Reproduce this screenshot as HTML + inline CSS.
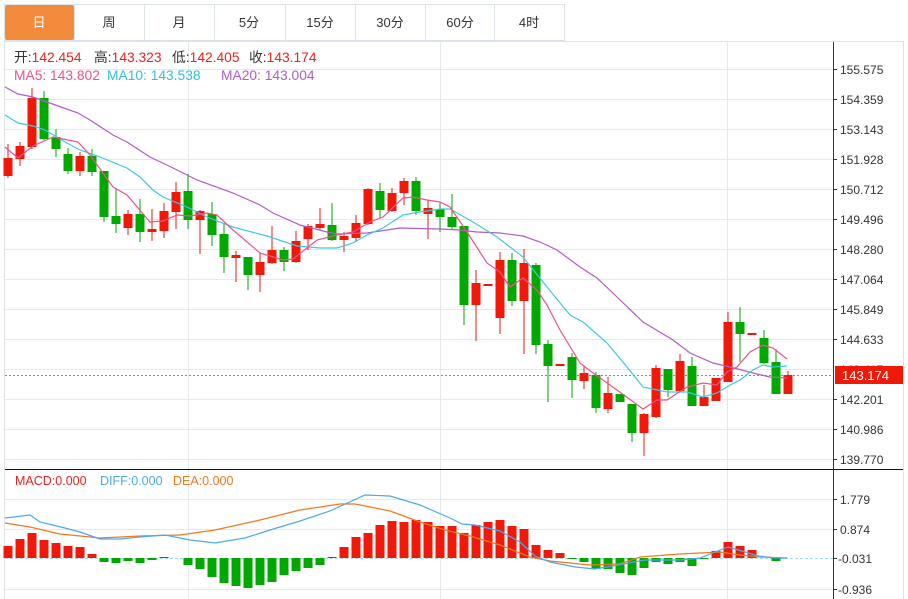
<!DOCTYPE html>
<html><head><meta charset="utf-8"><style>
body{margin:0;background:#fff;width:908px;height:599px;overflow:hidden;font-family:"Liberation Sans","Noto Sans CJK SC",sans-serif;}
svg{position:absolute;left:0;top:0}
</style></head><body>
<svg width="908" height="599" viewBox="0 0 908 599" xmlns="http://www.w3.org/2000/svg" font-family="Liberation Sans, Noto Sans CJK SC, sans-serif">
<rect width="908" height="599" fill="#fff"/>
<rect x="4.5" y="4.5" width="560" height="36" fill="#fff" stroke="#dde3ea"/>
<rect x="5" y="5" width="69" height="35" fill="#f28c3c" rx="2"/>
<g stroke="#dde3ea"><line x1="144.5" y1="5" x2="144.5" y2="40"/><line x1="214.5" y1="5" x2="214.5" y2="40"/><line x1="285.5" y1="5" x2="285.5" y2="40"/><line x1="355.5" y1="5" x2="355.5" y2="40"/><line x1="425.5" y1="5" x2="425.5" y2="40"/><line x1="494.5" y1="5" x2="494.5" y2="40"/><line x1="74.5" y1="5" x2="74.5" y2="40"/></g>
<g font-size="13" text-anchor="middle" fill="#333"><text x="39" y="27" fill="#fff">日</text><text x="109" y="27">周</text><text x="179" y="27">月</text><text x="249" y="27">5分</text><text x="320" y="27">15分</text><text x="390" y="27">30分</text><text x="460" y="27">60分</text><text x="529" y="27">4时</text></g>
<line x1="4.5" y1="41.5" x2="903" y2="41.5" stroke="#dde3ea"/>
<line x1="4.5" y1="41" x2="4.5" y2="599" stroke="#dde3ea"/>
<line x1="903.5" y1="41" x2="903.5" y2="599" stroke="#dde3ea"/>
<g stroke="#e4e9ef">
<line x1="5" y1="69.5" x2="833" y2="69.5"/><line x1="5" y1="99.5" x2="833" y2="99.5"/><line x1="5" y1="129.5" x2="833" y2="129.5"/><line x1="5" y1="159.5" x2="833" y2="159.5"/><line x1="5" y1="189.5" x2="833" y2="189.5"/><line x1="5" y1="219.5" x2="833" y2="219.5"/><line x1="5" y1="249.5" x2="833" y2="249.5"/><line x1="5" y1="279.5" x2="833" y2="279.5"/><line x1="5" y1="309.5" x2="833" y2="309.5"/><line x1="5" y1="339.5" x2="833" y2="339.5"/><line x1="5" y1="369.5" x2="833" y2="369.5"/><line x1="5" y1="399.5" x2="833" y2="399.5"/><line x1="5" y1="429.5" x2="833" y2="429.5"/><line x1="5" y1="459.5" x2="833" y2="459.5"/>
<line x1="5" y1="499.5" x2="833" y2="499.5"/><line x1="5" y1="529.5" x2="833" y2="529.5"/><line x1="5" y1="589.5" x2="833" y2="589.5"/>
<line x1="188.5" y1="42" x2="188.5" y2="599"/><line x1="440.5" y1="42" x2="440.5" y2="599"/><line x1="727.5" y1="42" x2="727.5" y2="599"/>
</g>
<line x1="5" y1="469.5" x2="903" y2="469.5" stroke="#111"/>
<line x1="833.5" y1="42" x2="833.5" y2="599" stroke="#333"/>
<g font-size="12" fill="#333">
<g stroke="#333"><line x1="833" y1="69.5" x2="837" y2="69.5"/><line x1="833" y1="99.5" x2="837" y2="99.5"/><line x1="833" y1="129.5" x2="837" y2="129.5"/><line x1="833" y1="159.5" x2="837" y2="159.5"/><line x1="833" y1="189.5" x2="837" y2="189.5"/><line x1="833" y1="219.5" x2="837" y2="219.5"/><line x1="833" y1="249.5" x2="837" y2="249.5"/><line x1="833" y1="279.5" x2="837" y2="279.5"/><line x1="833" y1="309.5" x2="837" y2="309.5"/><line x1="833" y1="339.5" x2="837" y2="339.5"/><line x1="833" y1="399.5" x2="837" y2="399.5"/><line x1="833" y1="429.5" x2="837" y2="429.5"/><line x1="833" y1="459.5" x2="837" y2="459.5"/><line x1="833" y1="499.5" x2="837" y2="499.5"/><line x1="833" y1="529.5" x2="837" y2="529.5"/><line x1="833" y1="558.5" x2="837" y2="558.5"/><line x1="833" y1="589.5" x2="837" y2="589.5"/></g>
<text x="840" y="74">155.575</text><text x="840" y="104">154.359</text><text x="840" y="134">153.143</text><text x="840" y="164">151.928</text><text x="840" y="194">150.712</text><text x="840" y="224">149.496</text><text x="840" y="254">148.280</text><text x="840" y="284">147.064</text><text x="840" y="314">145.849</text><text x="840" y="344">144.633</text><text x="840" y="374">143.417</text><text x="840" y="404">142.201</text><text x="840" y="434">140.986</text><text x="840" y="464">139.770</text>
<text x="840" y="504">1.779</text><text x="840" y="534">0.874</text><text x="838" y="563">-0.031</text><text x="838" y="594">-0.936</text>
</g>
<line x1="5" y1="375.5" x2="833" y2="375.5" stroke="#f06060" stroke-dasharray="2,2"/>
<rect x="835" y="366" width="68" height="18" fill="#f01808"/>
<text x="842" y="380" font-size="13" fill="#fff">143.174</text>
<g font-size="13.8">
<text x="14" y="62" fill="#333">开:<tspan fill="#f02020">142.454</tspan></text>
<text x="94" y="62" fill="#333">高:<tspan fill="#f02020">143.323</tspan></text>
<text x="172" y="62" fill="#333">低:<tspan fill="#f02020">142.405</tspan></text>
<text x="249" y="62" fill="#333">收:<tspan fill="#f02020">143.174</tspan></text>
<text x="14" y="80" fill="#f0508a">MA5: 143.802</text>
<text x="107" y="80" fill="#30c0dc">MA10: 143.538</text>
<text x="221" y="80" fill="#b05cc8">MA20: 143.004</text>
</g>
<g font-size="12.5">
<text x="15" y="485" fill="#f02020">MACD:0.000</text>
<text x="100" y="485" fill="#4ea8f0">DIFF:0.000</text>
<text x="173" y="485" fill="#f07820">DEA:0.000</text>
</g>
<g fill="#f01808">
<rect x="7.5" y="144" width="1" height="34"/><rect x="3.5" y="158" width="9" height="18"/>
<rect x="19.5" y="142" width="1" height="24"/><rect x="15.5" y="146" width="9" height="13"/>
<rect x="31.5" y="88" width="1" height="61"/><rect x="27.5" y="98" width="9" height="49"/>
<rect x="79.5" y="152" width="1" height="24"/><rect x="75.5" y="156" width="9" height="15"/>
<rect x="127.5" y="210" width="1" height="25"/><rect x="123.5" y="214" width="9" height="14"/>
<rect x="151.5" y="209" width="1" height="32"/><rect x="147.5" y="229" width="9" height="3"/>
<rect x="163.5" y="203" width="1" height="35"/><rect x="159.5" y="211" width="9" height="20"/>
<rect x="175.5" y="182" width="1" height="47"/><rect x="171.5" y="192" width="9" height="20"/>
<rect x="199.5" y="210" width="1" height="44"/><rect x="195.5" y="211" width="9" height="9"/>
<rect x="235.5" y="251" width="1" height="31"/><rect x="231.5" y="255" width="9" height="3"/>
<rect x="259.5" y="253" width="1" height="39"/><rect x="255.5" y="262" width="9" height="13"/>
<rect x="271.5" y="226" width="1" height="38"/><rect x="267.5" y="250" width="9" height="13"/>
<rect x="295.5" y="231" width="1" height="32"/><rect x="291.5" y="241" width="9" height="21"/>
<rect x="307.5" y="224" width="1" height="26"/><rect x="303.5" y="226" width="9" height="13"/>
<rect x="319.5" y="208" width="1" height="22"/><rect x="315.5" y="224" width="9" height="4"/>
<rect x="343.5" y="232" width="1" height="20"/><rect x="339.5" y="236" width="9" height="4"/>
<rect x="355.5" y="215" width="1" height="27"/><rect x="351.5" y="223" width="9" height="15"/>
<rect x="367.5" y="188" width="1" height="37"/><rect x="363.5" y="189" width="9" height="35"/>
<rect x="391.5" y="188" width="1" height="24"/><rect x="387.5" y="193" width="9" height="18"/>
<rect x="403.5" y="178" width="1" height="27"/><rect x="399.5" y="181" width="9" height="12"/>
<rect x="427.5" y="200" width="1" height="39"/><rect x="423.5" y="208" width="9" height="6"/>
<rect x="475.5" y="270" width="1" height="71"/><rect x="471.5" y="283" width="9" height="22"/>
<rect x="483.5" y="284" width="9" height="2"/>
<rect x="499.5" y="252" width="1" height="82"/><rect x="495.5" y="260" width="9" height="58"/>
<rect x="523.5" y="249" width="1" height="105"/><rect x="519.5" y="263" width="9" height="38"/>
<rect x="555.5" y="364" width="9" height="2"/>
<rect x="583.5" y="366" width="1" height="23"/><rect x="579.5" y="373" width="9" height="8"/>
<rect x="607.5" y="377" width="1" height="36"/><rect x="603.5" y="393" width="9" height="16"/>
<rect x="643.5" y="413" width="1" height="43"/><rect x="639.5" y="414" width="9" height="19"/>
<rect x="655.5" y="365" width="1" height="53"/><rect x="651.5" y="368" width="9" height="49"/>
<rect x="679.5" y="354" width="1" height="38"/><rect x="675.5" y="361" width="9" height="30"/>
<rect x="703.5" y="385" width="1" height="21"/><rect x="699.5" y="397" width="9" height="9"/>
<rect x="711.5" y="378" width="9" height="23"/>
<rect x="727.5" y="312" width="1" height="70"/><rect x="723.5" y="322" width="9" height="60"/>
<rect x="747.5" y="333" width="9" height="2"/>
<rect x="787.5" y="371" width="1" height="23"/><rect x="783.5" y="375" width="9" height="19"/>
</g>
<g fill="#00a800">
<rect x="43.5" y="91" width="1" height="49"/><rect x="39.5" y="98" width="9" height="41"/>
<rect x="55.5" y="129" width="1" height="28"/><rect x="51.5" y="137" width="9" height="12"/>
<rect x="67.5" y="148" width="1" height="26"/><rect x="63.5" y="154" width="9" height="17"/>
<rect x="91.5" y="149" width="1" height="27"/><rect x="87.5" y="156" width="9" height="16"/>
<rect x="103.5" y="171" width="1" height="51"/><rect x="99.5" y="171" width="9" height="46"/>
<rect x="115.5" y="188" width="1" height="45"/><rect x="111.5" y="216" width="9" height="8"/>
<rect x="139.5" y="199" width="1" height="43"/><rect x="135.5" y="214" width="9" height="18"/>
<rect x="187.5" y="174" width="1" height="55"/><rect x="183.5" y="191" width="9" height="29"/>
<rect x="211.5" y="202" width="1" height="44"/><rect x="207.5" y="214" width="9" height="21"/>
<rect x="223.5" y="223" width="1" height="50"/><rect x="219.5" y="234" width="9" height="23"/>
<rect x="247.5" y="257" width="1" height="33"/><rect x="243.5" y="257" width="9" height="18"/>
<rect x="283.5" y="247" width="1" height="24"/><rect x="279.5" y="250" width="9" height="12"/>
<rect x="331.5" y="203" width="1" height="38"/><rect x="327.5" y="225" width="9" height="15"/>
<rect x="379.5" y="183" width="1" height="35"/><rect x="375.5" y="191" width="9" height="19"/>
<rect x="415.5" y="177" width="1" height="38"/><rect x="411.5" y="181" width="9" height="30"/>
<rect x="439.5" y="203" width="1" height="29"/><rect x="435.5" y="209" width="9" height="8"/>
<rect x="451.5" y="194" width="1" height="35"/><rect x="447.5" y="217" width="9" height="10"/>
<rect x="463.5" y="226" width="1" height="99"/><rect x="459.5" y="226" width="9" height="79"/>
<rect x="511.5" y="253" width="1" height="53"/><rect x="507.5" y="260" width="9" height="41"/>
<rect x="535.5" y="263" width="1" height="91"/><rect x="531.5" y="265" width="9" height="80"/>
<rect x="547.5" y="340" width="1" height="62"/><rect x="543.5" y="344" width="9" height="22"/>
<rect x="571.5" y="353" width="1" height="45"/><rect x="567.5" y="357" width="9" height="23"/>
<rect x="595.5" y="372" width="1" height="41"/><rect x="591.5" y="375" width="9" height="33"/>
<rect x="615.5" y="394" width="9" height="8"/>
<rect x="631.5" y="404" width="1" height="38"/><rect x="627.5" y="404" width="9" height="29"/>
<rect x="667.5" y="369" width="1" height="28"/><rect x="663.5" y="369" width="9" height="21"/>
<rect x="691.5" y="357" width="1" height="49"/><rect x="687.5" y="366" width="9" height="40"/>
<rect x="739.5" y="307" width="1" height="55"/><rect x="735.5" y="322" width="9" height="12"/>
<rect x="763.5" y="330" width="1" height="34"/><rect x="759.5" y="338" width="9" height="25"/>
<rect x="775.5" y="349" width="1" height="45"/><rect x="771.5" y="362" width="9" height="32"/>
</g>
<g fill="none" stroke-width="1.2">
<polyline stroke="#b05cc8" points="5,87 18,94 33,97 47,102 78,113 90,120 113,135 127,142 150,157 173,168 197,180 233,193 260,205 273,213 300,225 327,232 337,234 367,233 400,228 440,229 460,230 477,232 500,233 523,236 540,242 557,250 580,267 597,278 617,297 643,322 673,340 690,353 713,363 730,367 757,374 770,377 787,378"/>
<polyline stroke="#40c8e0" points="5,115 18,123 33,126 45,130 67,143 80,150 100,157 127,168 140,177 153,190 163,197 187,207 207,217 233,227 267,236 297,246 320,248 337,248 353,243 367,235 383,228 403,215 420,212 440,209 450,209 473,222 497,237 523,257 547,287 570,315 583,322 607,343 627,367 643,387 667,392 687,392 703,397 717,393 730,385 740,380 753,370 763,365 773,367 787,366"/>
<polyline stroke="#f0508a" points="5,147 18,158 33,146 53,137 78,142 90,155 113,187 127,195 150,222 163,221 177,215 190,216 207,213 217,215 233,230 260,253 283,260 293,259 317,240 337,235 353,232 370,222 383,217 403,198 413,197 427,200 440,202 450,207 467,232 487,263 500,272 510,287 523,278 537,290 547,305 560,330 580,363 593,373 617,390 643,409 657,400 667,400 687,387 703,383 717,385 727,372 737,367 750,352 763,345 773,348 787,359"/>
</g>
<line x1="5" y1="558.5" x2="833" y2="558.5" stroke="#a8dcea" stroke-dasharray="3,2"/>
<g fill="#f01808">
<rect x="3.5" y="546" width="9" height="12"/><rect x="15.5" y="539" width="9" height="19"/><rect x="27.5" y="533" width="9" height="25"/><rect x="39.5" y="540" width="9" height="18"/><rect x="51.5" y="543" width="9" height="15"/><rect x="63.5" y="546" width="9" height="12"/><rect x="75.5" y="547" width="9" height="11"/><rect x="87.5" y="554" width="9" height="4"/>
<rect x="159.5" y="557" width="9" height="1"/>
<rect x="327.5" y="557" width="9" height="1"/><rect x="339.5" y="547" width="9" height="11"/><rect x="351.5" y="537" width="9" height="21"/><rect x="363.5" y="533" width="9" height="25"/><rect x="375.5" y="525" width="9" height="33"/><rect x="387.5" y="521" width="9" height="37"/><rect x="399.5" y="522" width="9" height="36"/><rect x="411.5" y="520" width="9" height="38"/><rect x="423.5" y="522" width="9" height="36"/><rect x="435.5" y="526" width="9" height="32"/><rect x="447.5" y="526" width="9" height="32"/><rect x="459.5" y="533" width="9" height="25"/><rect x="471.5" y="525" width="9" height="33"/><rect x="483.5" y="522" width="9" height="36"/><rect x="495.5" y="520" width="9" height="38"/><rect x="507.5" y="526" width="9" height="32"/><rect x="519.5" y="529" width="9" height="29"/><rect x="531.5" y="545" width="9" height="13"/><rect x="543.5" y="550" width="9" height="8"/><rect x="555.5" y="553" width="9" height="5"/>
<rect x="711.5" y="551" width="9" height="7"/><rect x="723.5" y="542" width="9" height="16"/><rect x="735.5" y="546" width="9" height="12"/><rect x="747.5" y="550" width="9" height="8"/>
</g>
<g fill="#00a800">
<rect x="99.5" y="558" width="9" height="4"/><rect x="111.5" y="558" width="9" height="5"/><rect x="123.5" y="558" width="9" height="3"/><rect x="135.5" y="558" width="9" height="5"/><rect x="147.5" y="558" width="9" height="2"/>
<rect x="183.5" y="558" width="9" height="7"/><rect x="195.5" y="558" width="9" height="11"/><rect x="207.5" y="558" width="9" height="19"/><rect x="219.5" y="558" width="9" height="25"/><rect x="231.5" y="558" width="9" height="28"/><rect x="243.5" y="558" width="9" height="30"/><rect x="255.5" y="558" width="9" height="27"/><rect x="267.5" y="558" width="9" height="24"/><rect x="279.5" y="558" width="9" height="17"/><rect x="291.5" y="558" width="9" height="13"/><rect x="303.5" y="558" width="9" height="10"/><rect x="315.5" y="558" width="9" height="7"/>
<rect x="567.5" y="558" width="9" height="1"/><rect x="579.5" y="558" width="9" height="4"/><rect x="591.5" y="558" width="9" height="11"/><rect x="603.5" y="558" width="9" height="11"/><rect x="615.5" y="558" width="9" height="15"/><rect x="627.5" y="558" width="9" height="17"/><rect x="639.5" y="558" width="9" height="10"/><rect x="651.5" y="558" width="9" height="4"/><rect x="663.5" y="558" width="9" height="6"/><rect x="675.5" y="558" width="9" height="4"/><rect x="687.5" y="558" width="9" height="8"/><rect x="699.5" y="558" width="9" height="1"/><rect x="771.5" y="558" width="9" height="3"/>
</g>
<g fill="none" stroke-width="1.2">
<polyline stroke="#f07820" points="5,523 30,527 60,534 100,538 140,536 180,535 215,530 260,520 300,510 340,504 355,504 390,511 420,522 445,530 470,536 500,545 530,557 550,561 590,565 620,564 640,557 680,554 720,552 740,555 760,557 787,558"/>
<polyline stroke="#4ea8f0" points="5,518 30,515 40,522 65,528 80,532 100,539 120,539 140,537 165,535 190,540 215,543 245,538 270,530 300,521 330,511 365,495 390,496 420,505 450,518 462,524 475,525 500,531 520,542 535,556 550,562 575,567 595,569 618,565 645,560 680,560 700,558 715,552 728,547 742,551 758,556 775,558 787,558"/>
</g>
</svg>
</body></html>
